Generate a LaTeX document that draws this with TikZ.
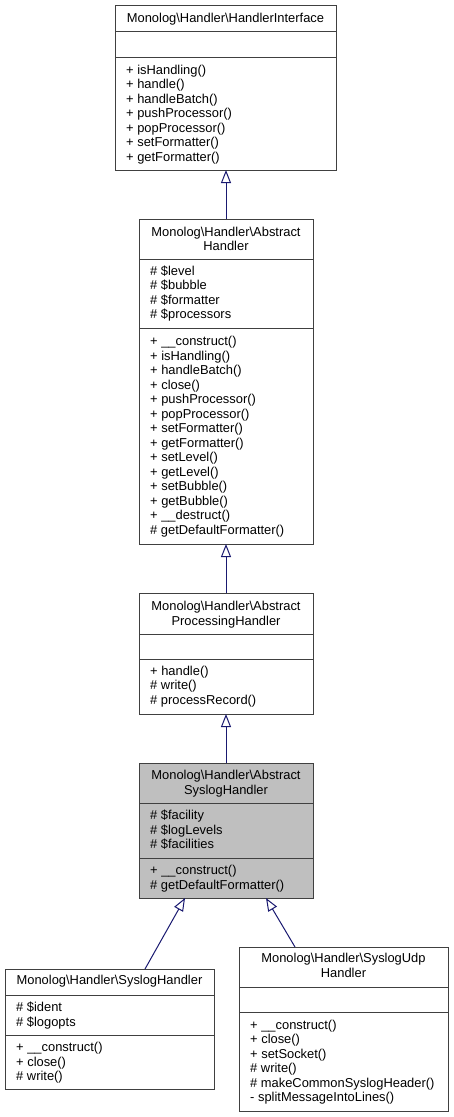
\documentclass[tikz,border=0pt]{standalone}
\usepackage{fontspec}
\setmainfont{Liberation Sans}
\usetikzlibrary{arrows.meta}
\definecolor{edgecol}{HTML}{191970}
\definecolor{bordercol}{HTML}{404040}
\definecolor{curcol}{HTML}{BFBFBF}
\newcommand\bs{\textbackslash}
\newcommand\umllines[4]{%
  \foreach \t [count=\i] in {#4} {\node[txt] (#1\i) at (#2, #3+14.5*\i-14.5) {\t};}}
\newcommand\umlsep[2]{\draw[sepline] (#1.west |- 0,#2) -- (#1.east |- 0,#2);}
\begin{document}
\begin{tikzpicture}[x=1pt,y=-1pt,
  cls/.style={draw=bordercol, line width=1pt, fill=white, inner sep=0pt, outer sep=0pt, anchor=north west},
  sepline/.style={draw=bordercol, line width=1pt},
  txt/.style={anchor=base west, inner sep=0pt, font=\fontsize{12.9}{14.5}\selectfont},
  ttl/.style={anchor=base, inner sep=0pt, font=\fontsize{12.9}{14.5}\selectfont},
  inh/.style={draw=edgecol, line width=1pt, -{Triangle[open, length=13pt, width=10pt, fill=white]}}]
\useasboundingbox (0,0) rectangle (453,1117);

% Box 1: HandlerInterface
\node[cls, minimum width=221pt, minimum height=165pt] (b1) at (115,5) {};
\umlsep{b1}{31}\umlsep{b1}{57}
\node[ttl] (b1t) at (225.5,22.5) {Monolog\bs Handler\bs HandlerInterface};
\umllines{b1m}{126}{74}{+ isHandling(), + handle(), + handleBatch(), + pushProcessor(), + popProcessor(), + setFormatter(), + getFormatter()}

% Box 2: AbstractHandler
\node[cls, minimum width=174pt, minimum height=325pt] (b2) at (139,219) {};
\umlsep{b2}{259}\umlsep{b2}{328}
\node[ttl] (b2t1) at (226,236) {Monolog\bs Handler\bs Abstract};
\node[ttl] (b2t2) at (226,250.5) {Handler};
\umllines{b2a}{150}{275}{\# \$level, \# \$bubble, \# \$formatter, \# \$processors}
\umllines{b2m}{150}{345.5}{+ \_\_construct(), + isHandling(), + handleBatch(), + close(), + pushProcessor(), + popProcessor(), + setFormatter(), + getFormatter(), + setLevel(), + getLevel(), + setBubble(), + getBubble(), + \_\_destruct(), \# getDefaultFormatter()}

% Box 3: AbstractProcessingHandler
\node[cls, minimum width=174pt, minimum height=121pt] (b3) at (139,593) {};
\umlsep{b3}{634}\umlsep{b3}{659}
\node[ttl] (b3t1) at (226,610.5) {Monolog\bs Handler\bs Abstract};
\node[ttl] (b3t2) at (226,625) {ProcessingHandler};
\umllines{b3m}{150}{675}{+ handle(), \# write(), \# processRecord()}

% Box 4: AbstractSyslogHandler
\node[cls, fill=curcol, minimum width=174pt, minimum height=135pt] (b4) at (139,763) {};
\umlsep{b4}{803}\umlsep{b4}{858}
\node[ttl] (b4t1) at (226,779.5) {Monolog\bs Handler\bs Abstract};
\node[ttl] (b4t2) at (226,794) {SyslogHandler};
\umllines{b4a}{150}{819.5}{\# \$facility, \# \$logLevels, \# \$facilities}
\umllines{b4m}{150}{874.5}{+ \_\_construct(), \# getDefaultFormatter()}

% Box 5: SyslogHandler
\node[cls, minimum width=209pt, minimum height=120pt] (b5) at (5,969) {};
\umlsep{b5}{995}\umlsep{b5}{1035}
\node[ttl] (b5t) at (109.5,984.5) {Monolog\bs Handler\bs SyslogHandler};
\umllines{b5a}{16}{1011.5}{\# \$ident, \# \$logopts}
\umllines{b5m}{16}{1051.5}{+ \_\_construct(), + close(), \# write()}

% Box 6: SyslogUdpHandler
\node[cls, minimum width=209pt, minimum height=164pt] (b6) at (239,947) {};
\umlsep{b6}{987}\umlsep{b6}{1012}
\node[ttl] (b6t1) at (343.5,962.5) {Monolog\bs Handler\bs SyslogUdp};
\node[ttl] (b6t2) at (343.5,977) {Handler};
\umllines{b6m}{250}{1029}{+ \_\_construct(), + close(), + setSocket(), \# write(), \# makeCommonSyslogHeader(), - splitMessageIntoLines()}

% Inheritance arrows
\draw[inh] (b2.north) -- (b2.north |- b1.south);
\draw[inh] (b3.north) -- (b3.north |- b2.south);
\draw[inh] (b4.north) -- (b4.north |- b3.south);
\draw[inh] ([xshift=140pt]b5.north west) -- ([xshift=46pt]b4.south west);
\draw[inh] ([xshift=56pt]b6.north west) -- ([xshift=127pt]b4.south west);
\end{tikzpicture}
\end{document}
